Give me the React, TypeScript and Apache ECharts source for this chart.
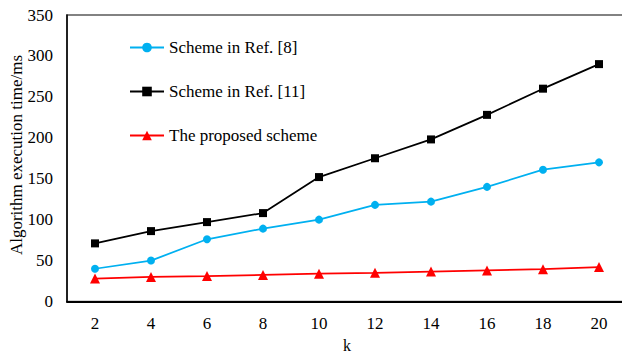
import React, { useEffect, useRef } from "react";
import * as echarts from "echarts";

const categories = ["2", "4", "6", "8", "10", "12", "14", "16", "18", "20"];
const ref8 = [40, 50, 76, 89, 100, 118, 122, 140, 161, 170];
const ref11 = [71, 86, 97, 108, 152, 175, 198, 228, 260, 290];
const proposed = [28, 30, 31, 32.5, 34, 35, 36.5, 38, 39.5, 42];
const yTicks = [0, 350, 50];
const legendNames = ["Scheme in Ref. [8]", "Scheme in Ref. [11]", "The proposed scheme"];

const FONT = "Liberation Serif";

export default function App() {
  const ref = useRef<HTMLDivElement>(null);
  useEffect(() => {
    const chart = echarts.init(ref.current!, null, { renderer: "svg" });
    const legendText = { fontFamily: FONT, fontSize: 17, color: "#000" };
    chart.setOption({
      animation: false,
      backgroundColor: "#ffffff",
      textStyle: { fontFamily: FONT, color: "#000" },
      grid: {
        left: 67,
        top: 15,
        right: -5,
        bottom: 52.5,
        outerBoundsMode: "none",
        containLabel: false,
        show: true,
        borderColor: "#595959",
        borderWidth: 1.5,
      },
      legend: {
        orient: "vertical",
        left: 129,
        top: 39,
        padding: 0,
        itemWidth: 34,
        itemHeight: 12,
        itemGap: 27,
        textStyle: legendText,
        data: legendNames.map((n) => ({ name: n, textStyle: legendText })),
      },
      xAxis: {
        type: "category",
        data: categories,
        boundaryGap: true,
        axisLine: { lineStyle: { color: "#000", width: 2 } },
        axisTick: { show: false },
        axisLabel: { fontFamily: FONT, fontSize: 17, color: "#000", margin: 13 },
        name: "k",
        nameLocation: "middle",
        nameGap: 36,
        nameTextStyle: { fontFamily: FONT, fontSize: 16, color: "#000" },
      },
      yAxis: {
        type: "value",
        min: yTicks[0],
        max: yTicks[1],
        interval: yTicks[2],
        axisLine: { show: true, lineStyle: { color: "#000", width: 1.5 } },
        axisTick: { show: false },
        splitLine: { show: false },
        axisLabel: { fontFamily: FONT, fontSize: 17, color: "#000", margin: 14 },
      },
      graphic: [
        {
          type: "text",
          x: 16,
          y: 155,
          rotation: Math.PI / 2,
          style: {
            text: "Algorithm execution time/ms",
            fontFamily: FONT,
            fontSize: 17,
            fill: "#000",
            align: "center",
            verticalAlign: "middle",
          },
        },
      ],
      series: [
        {
          name: legendNames[0],
          type: "line",
          data: ref8,
          symbol: "circle",
          symbolSize: 8,
          lineStyle: { color: "#00B0F0", width: 1.75 },
          itemStyle: { color: "#00B0F0" },
        },
        {
          name: legendNames[1],
          type: "line",
          data: ref11,
          symbol: "rect",
          symbolSize: 8,
          lineStyle: { color: "#000000", width: 1.75 },
          itemStyle: { color: "#000000" },
        },
        {
          name: legendNames[2],
          type: "line",
          data: proposed,
          symbol: "triangle",
          symbolSize: 10,
          lineStyle: { color: "#FF0000", width: 1.75 },
          itemStyle: { color: "#FF0000" },
        },
      ],
    });
    return () => chart.dispose();
  }, []);
  return (
    <div
      ref={ref}
      style={{ position: "absolute", left: 0, top: 0, width: 622, height: 354 }}
    />
  );
}
